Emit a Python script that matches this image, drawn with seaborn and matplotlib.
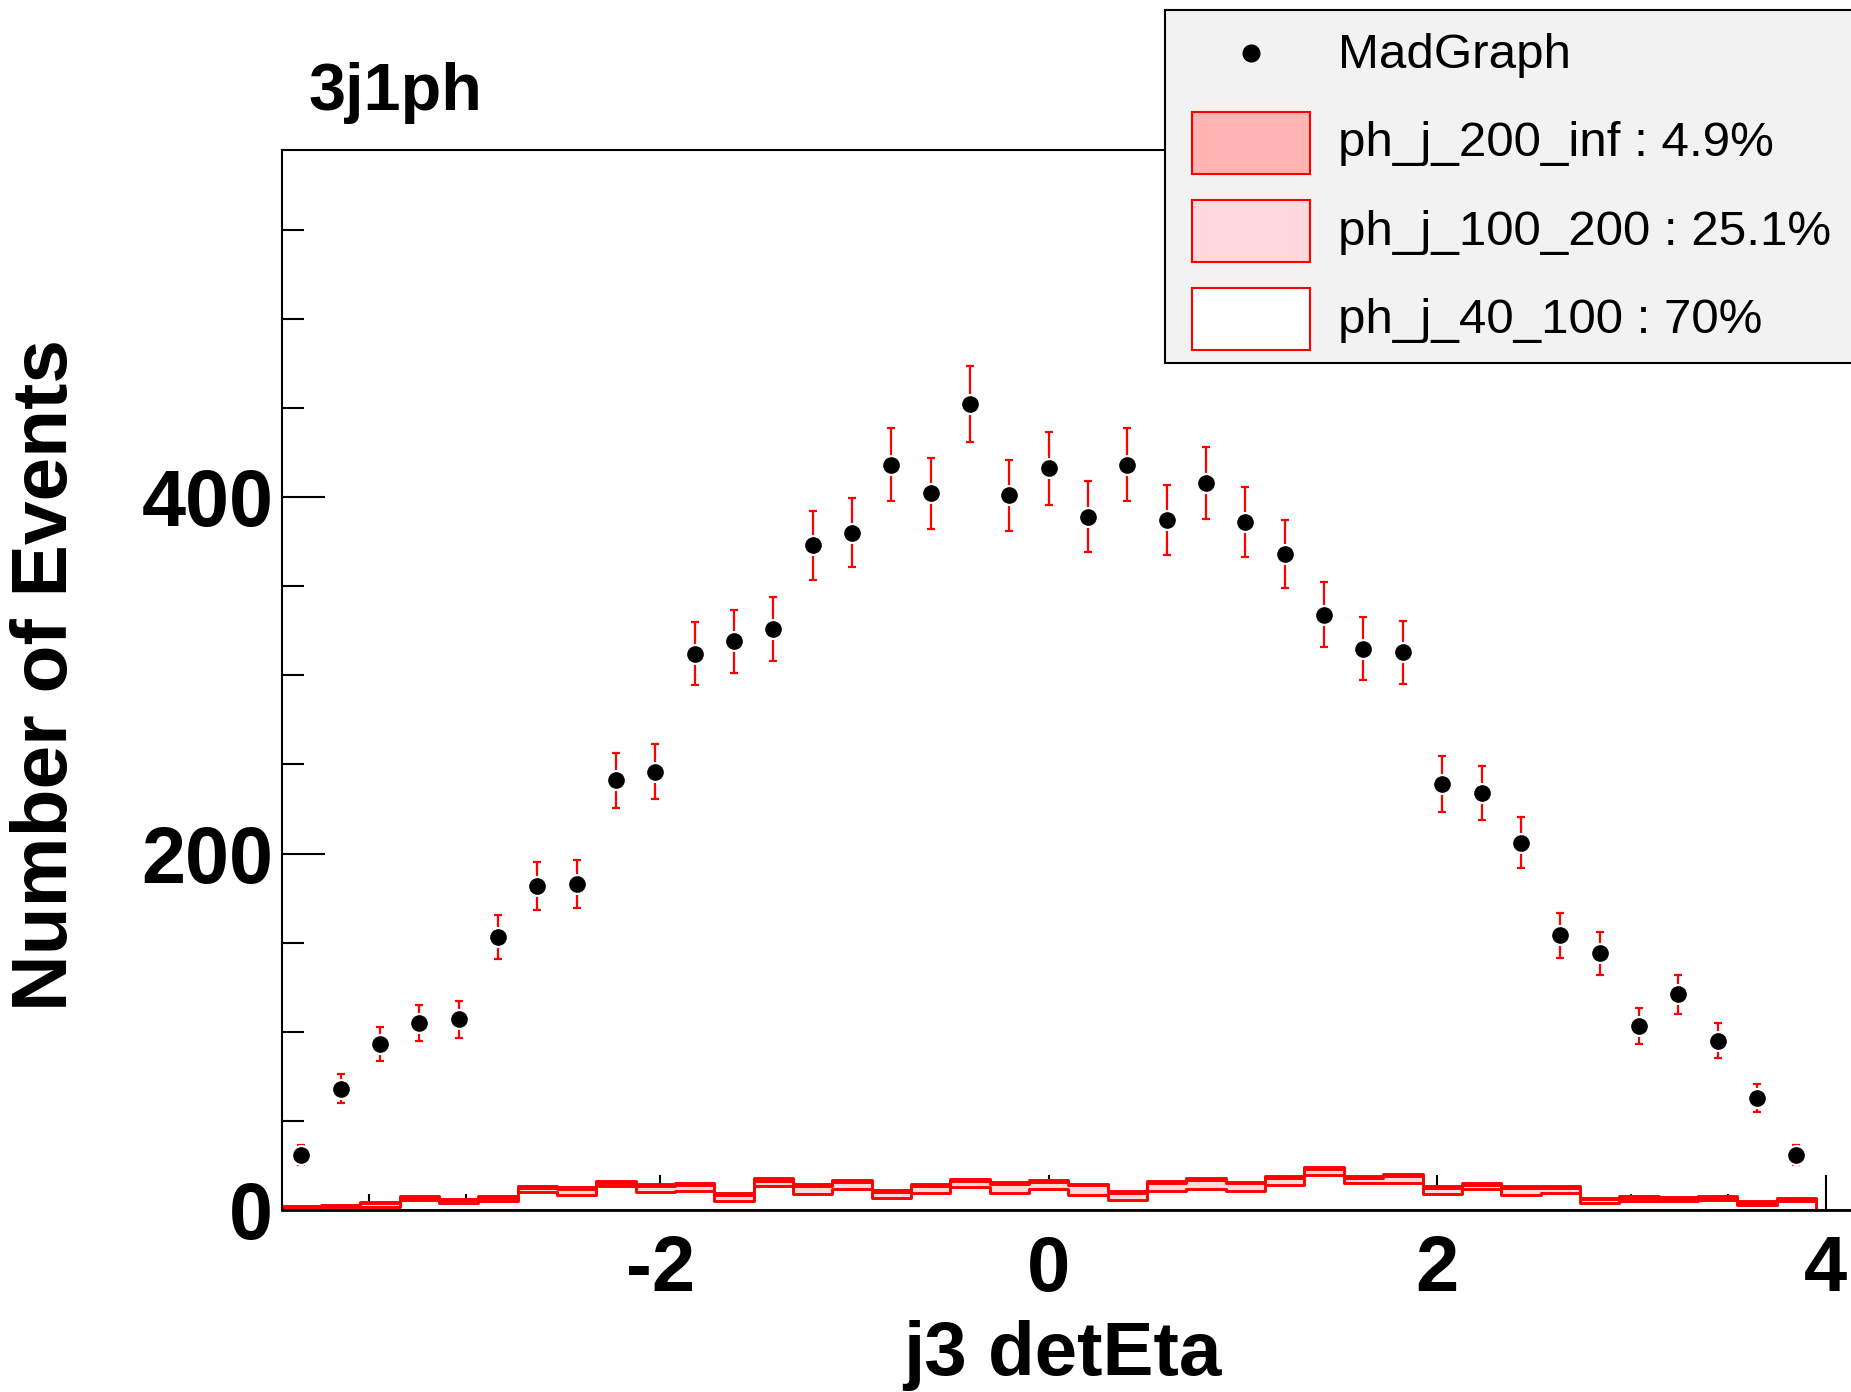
import numpy as np
import pandas as pd
import matplotlib
matplotlib.use("Agg")
import matplotlib.pyplot as plt
from matplotlib.ticker import MultipleLocator
from matplotlib.patches import Rectangle
from matplotlib.lines import Line2D
import seaborn as sns

# j3 detEta binning (39 bins)
bin_edges = np.linspace(-3.95, 3.95, 40)
bin_centers = 0.5 * (bin_edges[:-1] + bin_edges[1:])

# data points (MadGraph), events per bin
madgraph = [31, 68, 93, 105, 107, 153, 182, 183, 241, 246,
            312, 319, 326, 373, 380, 418, 402, 452, 401, 416,
            389, 418, 387, 408, 386, 368, 334, 315, 313, 239,
            234, 206, 154, 144, 103, 121, 95, 63, 31]

# stacked samples, events per bin
ph_j_40_100 = [1.2, 1.9, 1.9, 5.6, 4.1, 5.0, 10.3, 8.2, 13.3, 10.1,
               10.8, 5.2, 13.3, 8.8, 11.6, 6.9, 9.7, 13.1, 9.7, 11.6,
               8.6, 5.6, 10.5, 11.6, 10.5, 13.8, 19.8, 15.0, 15.0, 8.8,
               11.6, 8.4, 9.7, 3.7, 5.2, 5.0, 5.6, 2.6, 5.0]
ph_j_100_200 = [0.8, 0.4, 2.2, 1.1, 1.3, 1.7, 2.0, 3.6, 1.8, 3.4,
                3.0, 3.4, 3.2, 4.7, 4.1, 3.2, 3.8, 3.2, 5.1, 4.3,
                5.2, 4.1, 4.8, 5.0, 4.5, 4.3, 3.0, 3.1, 3.9, 3.7,
                2.7, 3.7, 2.8, 2.3, 1.5, 1.4, 1.3, 1.5, 0.4]
ph_j_200_inf = [0.4, 0.5, 0.6, 1.2, 1.0, 1.0, 1.2, 0.9, 1.2, 1.1,
                1.3, 0.9, 1.2, 0.9, 1.1, 1.1, 1.1, 1.1, 1.1, 1.1,
                1.0, 0.8, 1.0, 1.2, 0.9, 1.2, 1.5, 1.2, 1.1, 1.1,
                1.1, 1.4, 1.0, 0.9, 1.2, 1.1, 1.1, 0.9, 1.1]

legend_labels = ["MadGraph", "ph_j_200_inf : 4.9%", "ph_j_100_200 : 25.1%", "ph_j_40_100 : 70%"]
fill_colors = ["#ffb3b3", "#ffd9db", "#ffffff"]

sns.set_style("ticks")
plt.rcParams['font.family'] = ['Liberation Sans', 'DejaVu Sans']
plt.rcParams['font.weight'] = 'bold'
plt.rcParams['axes.unicode_minus'] = False
for key in ["text.color", "axes.labelcolor", "xtick.color", "ytick.color", "axes.edgecolor"]:
    plt.rcParams[key] = "black"

W, H = 1851, 1392
fig = plt.figure(figsize=(W / 100, H / 100), dpi=100)
px_per_unit = 194.2
xmin, xmax = -3.95, 4.4
ax = fig.add_axes([281.7 / W, 1 - 1210 / H, (xmax - xmin) * px_per_unit / W, (1210 - 150.5) / H])

# stacked histogram, drawn as cumulative layers (top first)
s40 = np.array(ph_j_40_100)
s100 = s40 + np.array(ph_j_100_200)
s200 = s100 + np.array(ph_j_200_inf)
df = pd.DataFrame({"eta": bin_centers, "s200": s200, "s100": s100, "s40": s40,
                   "madgraph": np.array(madgraph, dtype=float)})
for col, fc in zip(["s200", "s100", "s40"], fill_colors):
    sns.histplot(data=df, x="eta", weights=col, bins=list(bin_edges), element="step",
                 fill=True, facecolor=fc, edgecolor="red", linewidth=2.1,
                 alpha=1, ax=ax)
# empty overflow range drawn along the baseline
ax.axhline(0, xmin=(bin_edges[-1] - xmin) / (xmax - xmin), color="#b00000", lw=2, zorder=2)

# data with poisson errors
ax.errorbar(df["eta"], df["madgraph"], yerr=np.sqrt(df["madgraph"]), fmt="none",
            ecolor="red", elinewidth=1.6, capsize=3, capthick=1.6, zorder=3)
sns.scatterplot(data=df, x="eta", y="madgraph", color="black", s=185,
                edgecolor="white", linewidth=1.6, zorder=4, ax=ax)

ax.set_xlim(xmin, xmax)
ax.set_ylim(0, 594.4)
ax.set_xlabel("")
ax.set_ylabel("")
ax.xaxis.set_major_locator(MultipleLocator(2))
ax.xaxis.set_minor_locator(MultipleLocator(0.5))
ax.yaxis.set_major_locator(MultipleLocator(200))
ax.yaxis.set_minor_locator(MultipleLocator(50))
ax.tick_params(axis="y", which="major", direction="in", length=31, width=1.5,
               labelsize=57, pad=6)
ax.tick_params(axis="y", which="minor", direction="in", length=16, width=1.5)
ax.tick_params(axis="x", which="major", direction="in", length=25, width=1.5,
               labelsize=56, pad=17)
ax.tick_params(axis="x", which="minor", direction="in", length=11.5, width=1.5)
for sp in ax.spines.values():
    sp.set_linewidth(1.5)
ax.spines["bottom"].set_linewidth(2)

fig.text(309 / W, 1 - 110 / H, "3j1ph", fontsize=48, fontweight="bold", va="baseline")
fig.text(47 / W, 0.515, "Number of Events", rotation=90, fontsize=56.5,
         fontweight="bold", ha="center", va="center")
fig.text(1062 / W, 1 - 1375 / H, "j3 detEta", fontsize=55, fontweight="bold",
         ha="center", va="baseline")

# legend box (runs off the right edge like the original)
fig.add_artist(Rectangle((1165 / W, 1 - 363 / H), 800 / W, 353 / H,
                         transform=fig.transFigure, facecolor="#f2f2f2",
                         edgecolor="black", linewidth=1.5))
fig.add_artist(Line2D([1251 / W], [1 - 53 / H], transform=fig.transFigure,
                      marker="o", color="black", markersize=12, linestyle="none"))
row_base = [68, 156, 245, 333]
row_mid = [143, 231, 319]
for ym, fc in zip(row_mid, fill_colors):
    fig.add_artist(Rectangle((1192 / W, 1 - (ym + 31) / H), 118 / W, 62 / H,
                             transform=fig.transFigure, facecolor=fc,
                             edgecolor="red", linewidth=1.5))
for yb, lab in zip(row_base, legend_labels):
    fig.text(1338 / W, 1 - yb / H, lab, fontsize=35.5, fontweight="normal", va="baseline")

fig.savefig("out.png", dpi=100)
